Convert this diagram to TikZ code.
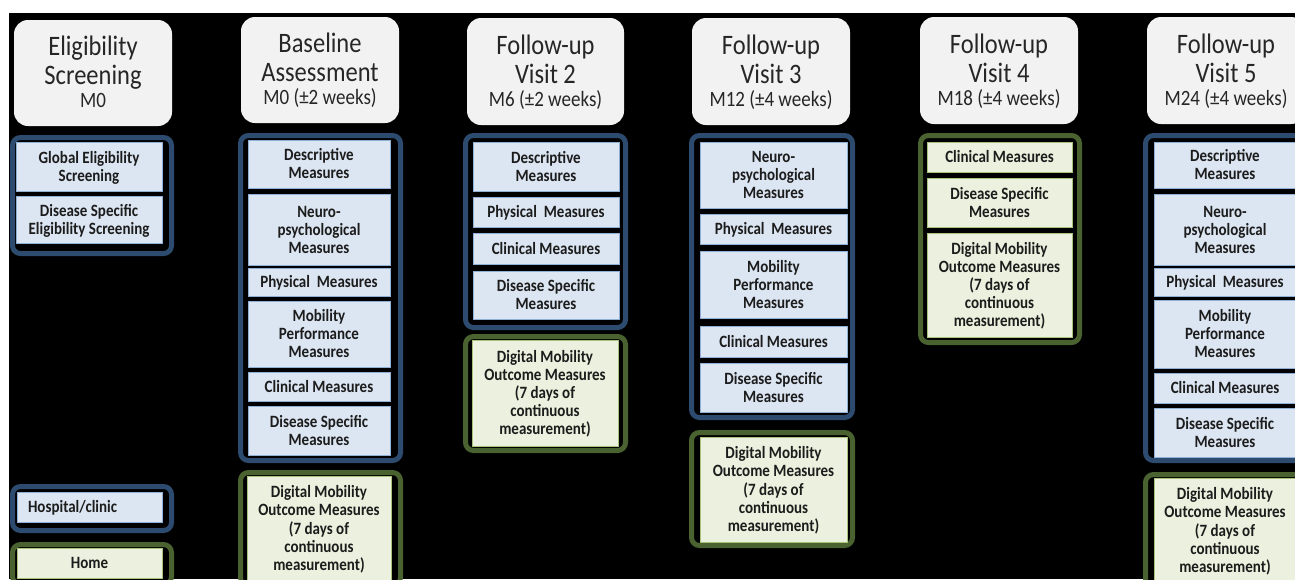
\documentclass[tikz,border=0pt]{standalone}
\usepackage{fontspec}
\setmainfont{Carlito}
\usepackage{graphicx}

\definecolor{hdrfill}{HTML}{F2F2F2}
\definecolor{hdrtext}{HTML}{262626}
\definecolor{grpblue}{HTML}{2D4B6E}
\definecolor{grpgreen}{HTML}{4A6230}
\definecolor{boxblue}{HTML}{DCE6F2}
\definecolor{boxblueedge}{HTML}{8FAFD6}
\definecolor{boxgreen}{HTML}{EBF1DE}
\definecolor{boxgreenedge}{HTML}{A9C27A}
\definecolor{boxtext}{HTML}{1C1C1C}

% lettering is set slightly taller than wide and sits a little low in its box
\newcommand{\vst}[1]{\raisebox{-2pt}[\height][\depth]{\scalebox{1}[1.15]{\begin{tabular}{@{}c@{}}#1\end{tabular}}}}
\newcommand{\vstl}[1]{\raisebox{-2pt}[\height][\depth]{\scalebox{1}[1.15]{\begin{tabular}{@{}l@{}}#1\end{tabular}}}}
\newcommand{\hst}[1]{\raisebox{-3pt}[\height][\depth]{\scalebox{1}[1.15]{\begin{tabular}{@{}c@{}}#1\end{tabular}}}}
\newcommand{\visitsub}{\fontsize{19}{20}\selectfont}

\tikzset{
  hdr/.style={rounded corners=14pt, fill=hdrfill, inner sep=0pt, text=hdrtext,
    font=\fontsize{24.5}{25.2}\selectfont},
  grpb/.style={draw=grpblue, line width=5pt, rounded corners=8pt, fill=black, inner sep=0pt},
  grpg/.style={draw=grpgreen, line width=5pt, rounded corners=8pt, fill=black, inner sep=0pt},
  mbox/.style={fill=boxblue, draw=boxblueedge, line width=0.8pt, inner sep=0pt, text=boxtext,
    font=\bfseries\fontsize{15}{15.7}\selectfont},
  mgreen/.style={mbox, fill=boxgreen, draw=boxgreenedge},
}

\begin{document}
\begin{tikzpicture}[x=1pt, y=-1pt]
\clip (0,0) rectangle (1295,579);
\fill[white] (0,0) rectangle (1295,579);
\fill[black] (9,13) rectangle (1295,579);

% ---------- Eligibility screening ----------
\node[hdr, minimum width=158pt, minimum height=106pt] (h1) at (93,73)
  {\hst{Eligibility\\Screening\\[-5.5pt]\visitsub M0}};
\node[grpb, minimum width=159pt, minimum height=116pt] (g1) at (92,195.5) {};
\node[mbox, minimum width=146pt, minimum height=49pt] (c1a) at (89,166.5)
  {\vst{Global Eligibility\\Screening}};
\node[mbox, minimum width=146pt, minimum height=47pt] (c1b) at (89,219.5)
  {\vst{Disease Specific\\Eligibility Screening}};

% legend: place of assessment
\node[grpb, minimum width=159pt, minimum height=44pt] (gh) at (92,508.5) {};
\node[mbox, minimum height=30pt, inner xsep=11pt, text width=123pt, align=left] (hosp) at (89.5,507)
  {\vstl{Hospital/clinic}};
\node[grpg, minimum width=159pt, minimum height=40pt] (gm) at (92,564.5) {};
\node[mgreen, minimum width=145pt, minimum height=30pt] (home) at (89.5,563) {\vst{Home}};

% ---------- Baseline assessment ----------
\node[hdr, minimum width=158pt, minimum height=106pt] (h2) at (320,70)
  {\hst{Baseline\\Assessment\\[-5.5pt]\visitsub M0 (±2 weeks)}};
\node[grpb, minimum width=160pt, minimum height=325pt] (g2) at (320.5,298) {};
\node[mbox, minimum width=142pt, minimum height=48pt] (c2a) at (319,164) {\vst{Descriptive\\Measures}};
\node[mbox, minimum width=142pt, minimum height=71pt] (c2b) at (319,229.5) {\vst{Neuro-\\psychological\\Measures}};
\node[mbox, minimum width=142pt, minimum height=28pt] (c2c) at (319,282) {\vst{Physical\ \ Measures}};
\node[mbox, minimum width=142pt, minimum height=66pt] (c2d) at (319,334) {\vst{Mobility\\Performance\\Measures}};
\node[mbox, minimum width=142pt, minimum height=29pt] (c2e) at (319,386.5) {\vst{Clinical Measures}};
\node[mbox, minimum width=142pt, minimum height=49pt] (c2f) at (319,430.5) {\vst{Disease Specific\\Measures}};
\node[grpg, minimum width=160pt, minimum height=113pt] (d2) at (320.5,529) {};
\node[mgreen, minimum width=144pt, minimum height=105pt] (dm2) at (319,528.5)
  {\vst{Digital Mobility\\Outcome Measures\\(7 days of\\continuous\\measurement)}};

% ---------- Follow-up visit 2 ----------
\node[hdr, minimum width=157pt, minimum height=107pt] (h3) at (545.5,71.5)
  {\hst{Follow-up\\Visit 2\\[-5.5pt]\visitsub M6 (±2 weeks)}};
\node[grpb, minimum width=160pt, minimum height=192pt] (g3) at (545.5,231.5) {};
\node[mbox, minimum width=146pt, minimum height=49pt] (c3a) at (546,166.5) {\vst{Descriptive\\Measures}};
\node[mbox, minimum width=146pt, minimum height=30pt] (c3b) at (546,212) {\vst{Physical\ \ Measures}};
\node[mbox, minimum width=146pt, minimum height=31pt] (c3c) at (546,248.5) {\vst{Clinical Measures}};
\node[mbox, minimum width=146pt, minimum height=48pt] (c3d) at (546,295) {\vst{Disease Specific\\Measures}};
\node[grpg, minimum width=160pt, minimum height=114pt] (d3) at (545.5,393.5) {};
\node[mgreen, minimum width=146pt, minimum height=106pt] (dm3) at (545,393)
  {\vst{Digital Mobility\\Outcome Measures\\(7 days of\\continuous\\measurement)}};

% ---------- Follow-up visit 3 ----------
\node[hdr, minimum width=158pt, minimum height=107pt] (h4) at (771,71.5)
  {\hst{Follow-up\\Visit 3\\[-5.5pt]\visitsub M12 (±4 weeks)}};
\node[grpb, minimum width=161pt, minimum height=282pt] (g4) at (772,276.5) {};
\node[mbox, minimum width=147pt, minimum height=66pt] (c4a) at (773.5,175) {\vst{Neuro-\\psychological\\Measures}};
\node[mbox, minimum width=147pt, minimum height=30pt] (c4b) at (773.5,229) {\vst{Physical\ \ Measures}};
\node[mbox, minimum width=147pt, minimum height=67pt] (c4c) at (773.5,284.5) {\vst{Mobility\\Performance\\Measures}};
\node[mbox, minimum width=147pt, minimum height=31pt] (c4d) at (773.5,341.5) {\vst{Clinical Measures}};
\node[mbox, minimum width=147pt, minimum height=49pt] (c4e) at (773.5,387.5) {\vst{Disease Specific\\Measures}};
\node[grpg, minimum width=161pt, minimum height=113pt] (d4) at (772,489) {};
\node[mgreen, minimum width=147pt, minimum height=105pt] (dm4) at (773.5,489.5)
  {\vst{Digital Mobility\\Outcome Measures\\(7 days of\\continuous\\measurement)}};

% ---------- Follow-up visit 4 ----------
\node[hdr, minimum width=158pt, minimum height=107pt] (h5) at (999,70.5)
  {\hst{Follow-up\\Visit 4\\[-5.5pt]\visitsub M18 (±4 weeks)}};
\node[grpg, minimum width=159pt, minimum height=207pt] (g5) at (1000,239) {};
\node[mgreen, minimum width=145pt, minimum height=30pt] (c5a) at (999.5,157) {\vst{Clinical Measures}};
\node[mgreen, minimum width=145pt, minimum height=49pt] (c5b) at (999.5,202.5) {\vst{Disease Specific\\Measures}};
\node[mgreen, minimum width=145pt, minimum height=104pt] (c5c) at (999.5,285)
  {\vst{Digital Mobility\\Outcome Measures\\(7 days of\\continuous\\measurement)}};

% ---------- Follow-up visit 5 ----------
\node[hdr, minimum width=158pt, minimum height=107pt] (h6) at (1226,70.5)
  {\hst{Follow-up\\Visit 5\\[-5.5pt]\visitsub M24 (±4 weeks)}};
\node[grpb, minimum width=160pt, minimum height=325pt] (g6) at (1225.5,298) {};
\node[mbox, minimum width=142pt, minimum height=46pt] (c6a) at (1225,165) {\vst{Descriptive\\Measures}};
\node[mbox, minimum width=142pt, minimum height=71pt] (c6b) at (1225,229.5) {\vst{Neuro-\\psychological\\Measures}};
\node[mbox, minimum width=142pt, minimum height=28pt] (c6c) at (1225,282) {\vst{Physical\ \ Measures}};
\node[mbox, minimum width=142pt, minimum height=68pt] (c6d) at (1225,334) {\vst{Mobility\\Performance\\Measures}};
\node[mbox, minimum width=142pt, minimum height=30pt] (c6e) at (1225,388) {\vst{Clinical Measures}};
\node[mbox, minimum width=142pt, minimum height=49pt] (c6f) at (1225,432.5) {\vst{Disease Specific\\Measures}};
\node[grpg, minimum width=160pt, minimum height=113pt] (d6) at (1225.5,531) {};
\node[mgreen, minimum width=142pt, minimum height=105pt] (dm6) at (1225,530.5)
  {\vst{Digital Mobility\\Outcome Measures\\(7 days of\\continuous\\measurement)}};
\end{tikzpicture}
\end{document}
